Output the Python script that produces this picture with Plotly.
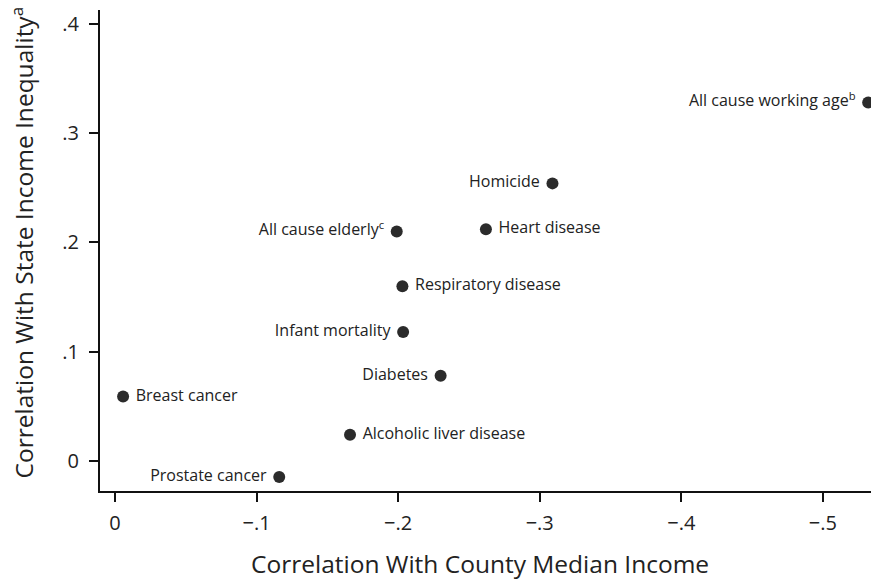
import plotly.graph_objects as go

causes = ["All cause working age<sup>b</sup>", "Homicide", "Heart disease", "All cause elderly<sup>c</sup>",
          "Respiratory disease", "Infant mortality", "Diabetes", "Breast cancer",
          "Alcoholic liver disease", "Prostate cancer"]
corr_income = [-0.532, -0.309, -0.262, -0.199, -0.203, -0.2035, -0.230, -0.0057, -0.166, -0.116]
corr_inequality = [0.328, 0.254, 0.212, 0.210, 0.160, 0.118, 0.078, 0.059, 0.024, -0.0146]
label_side = ["middle left", "middle left", "middle right", "middle left", "middle right",
              "middle left", "middle left", "middle right", "middle right", "middle left"]

x_ticks = [0, -0.1, -0.2, -0.3, -0.4, -0.5]
x_ticktext = ["0", "\u2212.1", "\u2212.2", "\u2212.3", "\u2212.4", "\u2212.5"]
y_ticks = [0, 0.1, 0.2, 0.3, 0.4]
y_ticktext = ["0", ".1", ".2", ".3", ".4"]

x_title = "Correlation With County Median Income"
y_title = "Correlation With State Income Inequality<sup>a</sup>"

font_family = "Open Sans, Lato, sans-serif"

fig = go.Figure()
fig.add_trace(go.Scatter(
    x=corr_income, y=corr_inequality, mode="markers+text",
    text=[" " + t + " " for t in causes], textposition=label_side,
    textfont=dict(size=16, color="#222222", family=font_family),
    marker=dict(size=12, color="#2b2b2b"),
    cliponaxis=False, showlegend=False, hoverinfo="skip",
))

fig.update_layout(
    width=871, height=579,
    margin=dict(l=100, r=0, t=10, b=88, autoexpand=False),
    paper_bgcolor="white", plot_bgcolor="white",
    font=dict(family=font_family, color="#222222"),
    xaxis=dict(
        range=[0.0106, -0.534], tickvals=x_ticks, ticktext=x_ticktext,
        showgrid=False, zeroline=False, showline=True, linecolor="#111111", linewidth=2,
        ticks="outside", ticklen=9, tickwidth=2, tickcolor="#111111",
        ticklabelstandoff=4,
        tickfont=dict(size=20, color="#222222"),
    ),
    yaxis=dict(
        range=[-0.0274, 0.4126], tickvals=y_ticks, ticktext=y_ticktext,
        showgrid=False, zeroline=False, showline=True, linecolor="#111111", linewidth=2,
        ticks="outside", ticklen=9, tickwidth=2, tickcolor="#111111",
        ticklabelstandoff=6,
        tickfont=dict(size=20, color="#222222"),
    ),
    annotations=[
        dict(text=x_title, xref="paper", yref="paper", x=0.493, y=0, xanchor="center", yanchor="middle",
             yshift=-72, showarrow=False, font=dict(size=24.5, color="#222222")),
        dict(text=y_title, xref="paper", yref="paper", x=0, y=0.5, xanchor="center", yanchor="middle",
             xshift=-78, yshift=8, textangle=-90, showarrow=False, font=dict(size=24.5, color="#222222")),
    ],
)

fig.write_html(
    "out.html",
    config={"displayModeBar": False},
    post_script="document.body.style.margin='0';document.body.style.overflow='hidden';"
                "document.documentElement.style.overflow='hidden';",
)
